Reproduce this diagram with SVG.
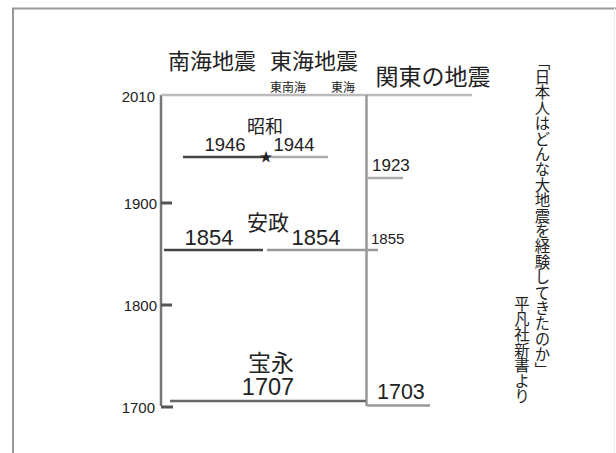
<svg xmlns="http://www.w3.org/2000/svg" width="616" height="453" viewBox="0 0 616 453">
<style>
text{font-family:"Liberation Sans","Noto Sans CJK JP",sans-serif;fill:#222}
.h{font-size:22px}
.yr{font-size:15px;text-anchor:end}
.v{font-family:"Noto Sans CJK JP",sans-serif;font-size:15.4px;writing-mode:vertical-rl;text-orientation:upright}
.ax{stroke:#777;stroke-width:2.5;fill:none}
.tk{stroke:#555;stroke-width:3}
.dk{stroke:#444;stroke-width:2.5}
.lt{stroke:#aaa;stroke-width:2.5}
</style>
<rect width="616" height="453" fill="#fff"/>
<g id="frame" fill="none">
<path d="M13,453 V8.5 H616" stroke="#999" stroke-width="2"/>
<line x1="614.5" y1="8" x2="614.5" y2="453" stroke="#eee" stroke-width="1"/>
</g>
<g id="headers">
<text class="h" x="212" y="69" text-anchor="middle">南海地震</text>
<text class="h" x="314" y="69" text-anchor="middle">東海地震</text>
<text x="433" y="85" font-size="23" text-anchor="middle">関東の地震</text>
<text x="288" y="92" font-size="12" text-anchor="middle">東南海</text>
<text x="343" y="92" font-size="12" text-anchor="middle">東海</text>
</g>
<g id="axis">
<line class="ax" x1="161" y1="95" x2="161" y2="406"/>
<line x1="161" y1="95" x2="472" y2="95" stroke="#bbb" stroke-width="2.5"/>
<line x1="366.5" y1="95" x2="366.5" y2="406" stroke="#999" stroke-width="2.5"/>
<line class="tk" x1="161" y1="203" x2="172" y2="203"/>
<line class="tk" x1="161" y1="305" x2="172" y2="305"/>
<line class="tk" x1="161" y1="407" x2="173" y2="407"/>
<text class="yr" x="155" y="102">2010</text>
<text class="yr" x="157" y="208.5">1900</text>
<text class="yr" x="157" y="310.5">1800</text>
<text class="yr" x="155" y="412.5">1700</text>
</g>
<g id="showa">
<line class="dk" x1="183" y1="157" x2="265" y2="157"/>
<line class="lt" x1="265" y1="157" x2="328" y2="157"/>
<text x="265" y="133" font-size="18" text-anchor="middle">昭和</text>
<text x="225" y="150.5" font-size="18.5" text-anchor="middle">1946</text>
<text x="294" y="150.5" font-size="18.5" text-anchor="middle">1944</text>
<text x="266" y="161" font-size="13" text-anchor="middle" fill="#111">★</text>
</g>
<g id="kanto1923">
<line class="lt" x1="368" y1="178" x2="403" y2="178"/>
<text x="372" y="171" font-size="17">1923</text>
</g>
<g id="ansei">
<line class="dk" x1="164" y1="250" x2="263" y2="250"/>
<line x1="267" y1="250" x2="378" y2="250" stroke="#999" stroke-width="2.5"/>
<text x="268" y="230" font-size="21" text-anchor="middle">安政</text>
<text x="209" y="245" font-size="22" text-anchor="middle">1854</text>
<text x="316" y="245" font-size="22" text-anchor="middle">1854</text>
<text x="371" y="244" font-size="15">1855</text>
</g>
<g id="hoei">
<line x1="170" y1="401" x2="366" y2="401" stroke="#666" stroke-width="2.5"/>
<text x="271" y="371" font-size="23" text-anchor="middle">宝永</text>
<text x="268" y="395" font-size="23.5" text-anchor="middle">1707</text>
</g>
<g id="kanto1703">
<line x1="367" y1="405.5" x2="430" y2="405.5" stroke="#999" stroke-width="2.5"/>
<text x="377" y="399" font-size="21.5">1703</text>
</g>
<g id="source">
<text class="v" x="542.5" y="54">「日本人はどんな大地震を経験してきたのか」</text>
<text class="v" x="522" y="296">平凡社新書より</text>
</g>
</svg>
